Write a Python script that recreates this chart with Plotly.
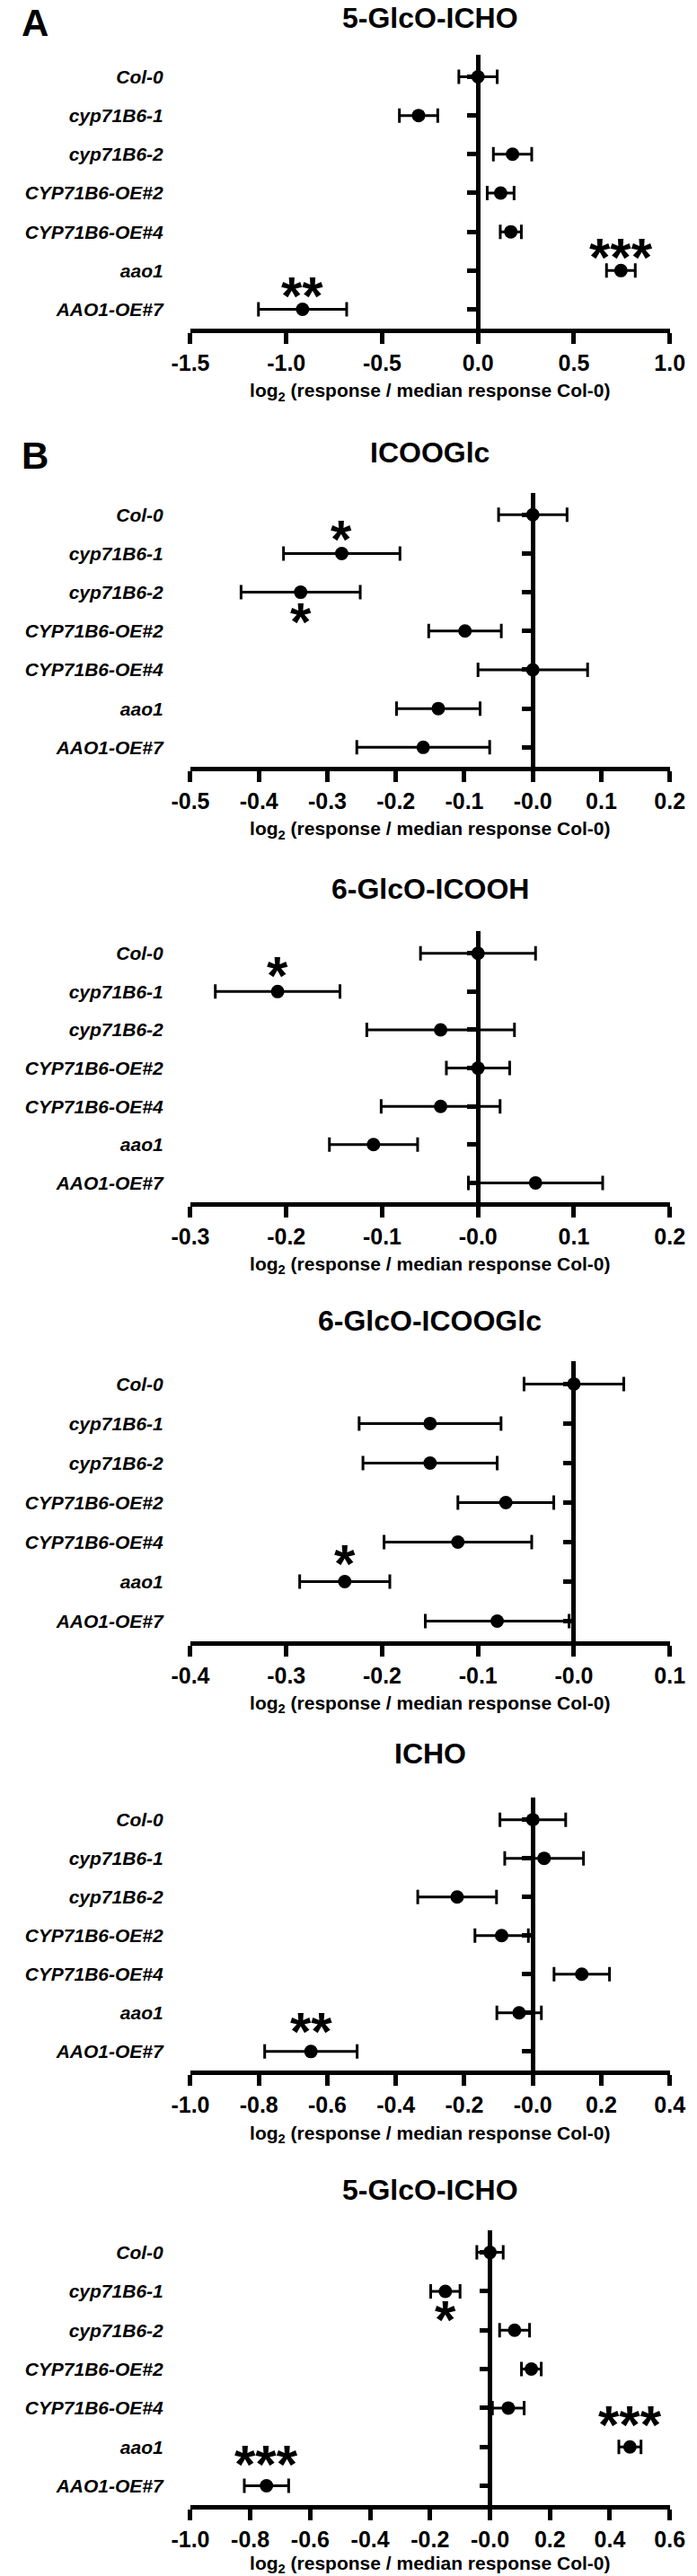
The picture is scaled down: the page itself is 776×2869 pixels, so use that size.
import plotly.graph_objects as go

W, H = 776, 2869
FONT = "Liberation Sans, Arial, Helvetica, sans-serif"

categories = ["Col-0", "cyp71B6-1", "cyp71B6-2", "CYP71B6-OE#2",
              "CYP71B6-OE#4", "aao1", "AAO1-OE#7"]

# ---- Panel A: 5-GlcO-ICHO ----
a_glco_icho_mean = [0.0, -0.31, 0.18, 0.118, 0.171, 0.745, -0.915]
a_glco_icho_err = [0.10, 0.10, 0.10, 0.07, 0.055, 0.075, 0.23]
a_glco_icho_sig = ["", "", "", "", "", "***", "**"]
a_glco_icho_ticks = [-1.5, -1.0, -0.5, 0.0, 0.5, 1.0]
a_glco_icho_ticktext = ["-1.5", "-1.0", "-0.5", "0.0", "0.5", "1.0"]

# ---- Panel B1: ICOOGlc ----
b_icooglc_mean = [0.0, -0.279, -0.339, -0.099, 0.0, -0.138, -0.16]
b_icooglc_err = [0.05, 0.085, 0.087, 0.053, 0.08, 0.061, 0.097]
b_icooglc_sig = ["", "*", "*", "", "", "", ""]
b_icooglc_ticks = [-0.5, -0.4, -0.3, -0.2, -0.1, 0.0, 0.1, 0.2]
b_icooglc_ticktext = ["-0.5", "-0.4", "-0.3", "-0.2", "-0.1", "-0.0", "0.1", "0.2"]

# ---- Panel B2: 6-GlcO-ICOOH ----
b_glco_icooh_mean = [0.0, -0.209, -0.039, 0.0, -0.039, -0.109, 0.06]
b_glco_icooh_err = [0.06, 0.065, 0.077, 0.033, 0.062, 0.046, 0.07]
b_glco_icooh_sig = ["", "*", "", "", "", "", ""]
b_glco_icooh_ticks = [-0.3, -0.2, -0.1, 0.0, 0.1, 0.2]
b_glco_icooh_ticktext = ["-0.3", "-0.2", "-0.1", "-0.0", "0.1", "0.2"]

# ---- Panel B3: 6-GlcO-ICOOGlc ----
b_glco_icooglc_mean = [0.0, -0.15, -0.15, -0.071, -0.121, -0.239, -0.08]
b_glco_icooglc_err = [0.052, 0.074, 0.07, 0.05, 0.077, 0.047, 0.075]
b_glco_icooglc_sig = ["", "", "", "", "", "*", ""]
b_glco_icooglc_ticks = [-0.4, -0.3, -0.2, -0.1, 0.0, 0.1]
b_glco_icooglc_ticktext = ["-0.4", "-0.3", "-0.2", "-0.1", "-0.0", "0.1"]

# ---- Panel B4: ICHO ----
b_icho_mean = [0.0, 0.033, -0.221, -0.091, 0.143, -0.04, -0.648]
b_icho_err = [0.096, 0.115, 0.115, 0.078, 0.081, 0.065, 0.135]
b_icho_sig = ["", "", "", "", "", "", "**"]
b_icho_ticks = [-1.0, -0.8, -0.6, -0.4, -0.2, 0.0, 0.2, 0.4]
b_icho_ticktext = ["-1.0", "-0.8", "-0.6", "-0.4", "-0.2", "-0.0", "0.2", "0.4"]

# ---- Panel B5: 5-GlcO-ICHO ----
b_glco_icho_mean = [0.0, -0.149, 0.082, 0.138, 0.061, 0.467, -0.746]
b_glco_icho_err = [0.044, 0.049, 0.05, 0.033, 0.053, 0.037, 0.074]
b_glco_icho_sig = ["", "*", "", "", "", "***", "***"]
b_glco_icho_ticks = [-1.0, -0.8, -0.6, -0.4, -0.2, 0.0, 0.2, 0.4, 0.6]
b_glco_icho_ticktext = ["-1.0", "-0.8", "-0.6", "-0.4", "-0.2", "-0.0", "0.2", "0.4", "0.6"]

AXIS_TITLE = "<b>log<sub>2</sub> (response / median response Col-0)</b>"

# layout (pixel geometry) per panel
panels = [
    dict(title="5-GlcO-ICHO", mean=a_glco_icho_mean, err=a_glco_icho_err, sig=a_glco_icho_sig,
         sig_dy=[0, 0, 0, 0, 0, 24, 24], ticks=a_glco_icho_ticks, ticktext=a_glco_icho_ticktext,
         top=61, bottom=367, title_y=15, letter="A", letter_y=22),
    dict(title="ICOOGlc", mean=b_icooglc_mean, err=b_icooglc_err, sig=b_icooglc_sig,
         sig_dy=[0, 25, -24, 0, 0, 0, 0], ticks=b_icooglc_ticks, ticktext=b_icooglc_ticktext,
         top=550, bottom=856, title_y=505, letter="B", letter_y=509),
    dict(title="6-GlcO-ICOOH", mean=b_glco_icooh_mean, err=b_glco_icooh_err, sig=b_glco_icooh_sig,
         sig_dy=[0, 27, 0, 0, 0, 0, 0], ticks=b_glco_icooh_ticks, ticktext=b_glco_icooh_ticktext,
         top=1040, bottom=1342, title_y=992),
    dict(title="6-GlcO-ICOOGlc", mean=b_glco_icooglc_mean, err=b_glco_icooglc_err, sig=b_glco_icooglc_sig,
         sig_dy=[0, 0, 0, 0, 0, 29, 0], ticks=b_glco_icooglc_ticks, ticktext=b_glco_icooglc_ticktext,
         top=1520, bottom=1832, title_y=1475),
    dict(title="ICHO", mean=b_icho_mean, err=b_icho_err, sig=b_icho_sig,
         sig_dy=[0, 0, 0, 0, 0, 0, 31], ticks=b_icho_ticks, ticktext=b_icho_ticktext,
         top=2007, bottom=2312, title_y=1958),
    dict(title="5-GlcO-ICHO", mean=b_glco_icho_mean, err=b_glco_icho_err, sig=b_glco_icho_sig,
         sig_dy=[0, -23, 0, 0, 0, 34, 33], ticks=b_glco_icho_ticks, ticktext=b_glco_icho_ticktext,
         top=2490, bottom=2797, title_y=2445),
]

XD = [200 / W, 762 / W]
YRANGE = [6.5, -0.57]
idx = list(range(len(categories)))


def py(px):
    return 1 - px / H


fig = go.Figure()
layout = dict(
    width=W, height=H, margin=dict(l=0, r=0, t=0, b=0),
    paper_bgcolor="white", plot_bgcolor="white", showlegend=False,
    font=dict(family=FONT, color="black"),
)
annotations = []
n = len(panels)
STAR_FONT = 60
STAR_CORR = -9  # glyph centring correction (px)
TITLE_FONT = 32

for k, p in enumerate(panels):
    i = k + 1
    xa = "x" if i == 1 else f"x{i}"
    ya = "y" if i == 1 else f"y{i}"
    ya2 = f"y{i + n}"
    xmin, xmax = p["ticks"][0], p["ticks"][-1]
    dom = [py(p["bottom"]), py(p["top"])]

    fig.add_trace(go.Scatter(
        x=p["mean"], y=idx, xaxis=xa, yaxis=ya, mode="markers",
        marker=dict(size=15, color="black"),
        error_x=dict(type="data", array=p["err"], visible=True,
                     color="black", thickness=3, width=8),
        hoverinfo="skip",
    ))
    fig.add_trace(go.Scatter(
        x=p["mean"], y=idx, xaxis=xa, yaxis=ya2, mode="markers",
        marker=dict(size=1, opacity=0), hoverinfo="skip",
    ))

    layout["xaxis" if i == 1 else f"xaxis{i}"] = dict(
        domain=XD, anchor=ya, range=[xmin, xmax],
        tickvals=p["ticks"], ticktext=p["ticktext"],
        ticks="outside", ticklen=12, tickwidth=5, tickcolor="black",
        showline=True, linewidth=5, linecolor="black",
        showgrid=False, zeroline=True, zerolinewidth=5, zerolinecolor="black",
        tickfont=dict(family=FONT, size=25, color="black", weight="bold"),
        ticklabeloverflow="allow", fixedrange=True,
        title=dict(text=AXIS_TITLE, standoff=12,
                   font=dict(family=FONT, size=21, color="black")),
    )
    layout["yaxis" if i == 1 else f"yaxis{i}"] = dict(
        domain=dom, anchor=xa, range=YRANGE,
        tickvals=idx, ticktext=categories,
        ticks="outside", ticklen=25, tickcolor="rgba(0,0,0,0)",
        showline=False, showgrid=False, zeroline=False,
        tickfont=dict(family=FONT, size=21, color="black", weight="bold", style="italic"),
        ticklabeloverflow="allow", fixedrange=True,
    )
    zero_pos = XD[0] + (0 - xmin) / (xmax - xmin) * (XD[1] - XD[0])
    layout[f"yaxis{i + n}"] = dict(
        overlaying=ya, anchor="free", position=zero_pos, side="left",
        range=YRANGE, tickvals=idx, ticks="outside", ticklen=12, tickwidth=5,
        tickcolor="black", showticklabels=False, showline=False, showgrid=False,
        zeroline=False, fixedrange=True,
    )

    # panel title
    if k == 0:
        annotations.append(dict(
            text=p["title"], xref="paper", yref="paper", x=(XD[0] + XD[1]) / 2,
            y=1.0, xanchor="center", yanchor="top", showarrow=False,
            font=dict(family=FONT, size=TITLE_FONT, color="black", weight="bold"),
        ))
    else:
        annotations.append(dict(
            text=p["title"], xref="paper", yref="paper", x=(XD[0] + XD[1]) / 2,
            y=py(p["title_y"]), xanchor="center", yanchor="middle", showarrow=False,
            font=dict(family=FONT, size=TITLE_FONT, color="black", weight="bold"),
        ))
    if p.get("letter"):
        if k == 0:
            annotations.append(dict(
                text=p["letter"], xref="paper", yref="paper", x=0.0,
                y=1.0, xanchor="left", yanchor="top", showarrow=False,
                font=dict(family=FONT, size=42, color="black", weight="bold"),
            ))
        else:
            annotations.append(dict(
                text=p["letter"], xref="paper", yref="paper", x=0.0,
                y=py(p["letter_y"]), xanchor="left", yanchor="middle", showarrow=False,
                font=dict(family=FONT, size=42, color="black", weight="bold"),
            ))
    # significance stars
    for j, s in enumerate(p["sig"]):
        if s:
            annotations.append(dict(
                text=s, xref=xa, yref=ya, x=p["mean"][j], y=j,
                xanchor="center", yanchor="middle", showarrow=False,
                yshift=p["sig_dy"][j] + STAR_CORR,
                font=dict(family=FONT, size=STAR_FONT, color="black", weight="bold"),
            ))

layout["annotations"] = annotations
fig.update_layout(**layout)
fig.write_html(
    "out.html",
    config={"displayModeBar": False},
    post_script="document.body.style.margin='0';document.body.style.padding='0';"
                "document.body.style.overflow='hidden';",
)
